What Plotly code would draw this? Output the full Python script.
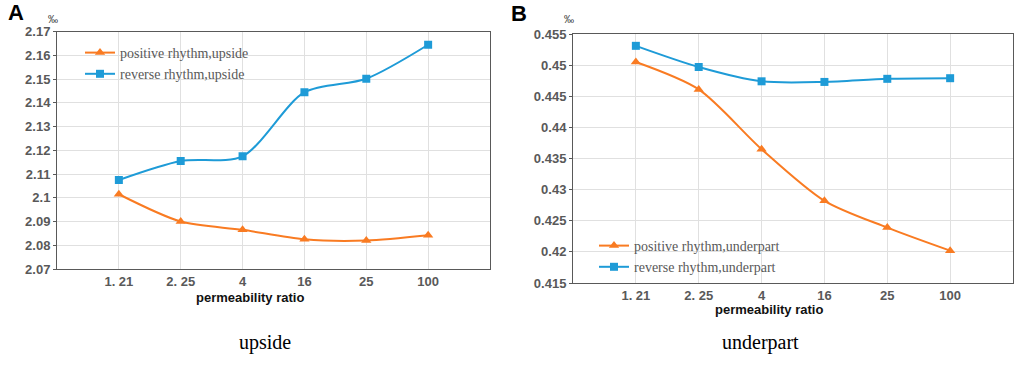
import plotly.graph_objects as go

categories = ["1. 21", "2. 25", "4", "16", "25", "100"]

upside_positive = [2.1015, 2.0900, 2.0865, 2.0825, 2.0820, 2.0842]
upside_reverse = [2.1075, 2.1155, 2.1175, 2.1445, 2.1502, 2.1645]

under_positive = [0.4505, 0.4461, 0.4365, 0.4282, 0.4239, 0.4202]
under_reverse = [0.4531, 0.4497, 0.4474, 0.4473, 0.4478, 0.4479]

upside_yticks = [2.07, 2.08, 2.09, 2.1, 2.11, 2.12, 2.13, 2.14, 2.15, 2.16, 2.17]
upside_yticktext = ["2.07", "2.08", "2.09", "2.1", "2.11", "2.12", "2.13", "2.14", "2.15", "2.16", "2.17"]
under_yticks = [0.415, 0.42, 0.425, 0.43, 0.435, 0.44, 0.445, 0.45, 0.455]
under_yticktext = ["0.415", "0.42", "0.425", "0.43", "0.435", "0.44", "0.445", "0.45", "0.455"]

ORANGE = "#F97B22"
BLUE = "#1E9BD7"
W, H = 1017, 366

def px_x(x):
    return x / W

def px_y(y):
    return 1 - y / H

fig = go.Figure()

def add_pair(pos, rev, names, xa, ya, legend):
    fig.add_trace(go.Scatter(
        x=categories, y=pos, name=names[0], xaxis=xa, yaxis=ya, legend=legend,
        mode="lines+markers", line=dict(color=ORANGE, width=2, shape="spline", smoothing=0.8),
        marker=dict(symbol="triangle-up", size=9, color=ORANGE)))
    fig.add_trace(go.Scatter(
        x=categories, y=rev, name=names[1], xaxis=xa, yaxis=ya, legend=legend,
        mode="lines+markers", line=dict(color=BLUE, width=2, shape="spline", smoothing=0.8),
        marker=dict(symbol="square", size=8, color=BLUE)))

add_pair(upside_positive, upside_reverse,
         ["positive rhythm,upside", "reverse rhythm,upside"], "x", "y", "legend")
add_pair(under_positive, under_reverse,
         ["positive rhythm,underpart", "reverse rhythm,underpart"], "x2", "y2", "legend2")

tickfont = dict(family="Arial, Liberation Sans", size=13, color="#595959", weight="bold")
xcommon = dict(type="category", range=[-1, 6], showgrid=True, gridcolor="#E0E0E0",
               gridwidth=1, showline=True, linecolor="#595959", linewidth=1, mirror=True,
               ticks="", tickfont=tickfont, zeroline=False, fixedrange=True, automargin=False)
ycommon = dict(showgrid=True, gridcolor="#E0E0E0", gridwidth=1, showline=True,
               linecolor="#595959", linewidth=1, mirror=True, ticks="outside",
               ticklen=3, tickcolor="#595959", tickfont=tickfont, zeroline=False, automargin=False)

fig.update_layout(
    width=W, height=H,
    margin=dict(l=0, r=0, t=0, b=0, autoexpand=False),
    paper_bgcolor="white", plot_bgcolor="white",
    xaxis=dict(domain=[px_x(57), px_x(490)], anchor="y", **xcommon),
    yaxis=dict(domain=[px_y(269), px_y(31.7)], anchor="x", range=[2.07, 2.17],
               tickvals=upside_yticks, ticktext=upside_yticktext, **ycommon),
    xaxis2=dict(domain=[px_x(573), px_x(1013)], anchor="y2", **xcommon),
    yaxis2=dict(domain=[px_y(283), px_y(34)], anchor="x2", range=[0.415, 0.455],
                tickvals=under_yticks, ticktext=under_yticktext, **ycommon),
    legend=dict(x=px_x(80), y=px_y(37), xanchor="left", yanchor="top",
                bgcolor="rgba(0,0,0,0)", font=dict(family="Liberation Serif, Times New Roman",
                size=14, color="#595959"), tracegroupgap=0, itemwidth=30),
    legend2=dict(x=px_x(594), y=px_y(230), xanchor="left", yanchor="top",
                 bgcolor="rgba(0,0,0,0)", font=dict(family="Liberation Serif, Times New Roman",
                 size=14, color="#595959"), tracegroupgap=0, itemwidth=30),
    showlegend=True,
)

ann_font_bold = dict(family="Arial, Liberation Sans", size=13, color="#111111", weight="bold")
annotations = [
    dict(text="A", x=px_x(16), y=px_y(12), font=dict(family="Arial, Liberation Sans", size=22, color="black", weight="bold")),
    dict(text="B", x=px_x(519), y=px_y(13), font=dict(family="Arial, Liberation Sans", size=22, color="black", weight="bold")),
    dict(text="‰", x=px_x(53), y=px_y(20), font=dict(family="Arial, Liberation Sans", size=10, color="#333333")),
    dict(text="‰", x=px_x(569), y=px_y(20), font=dict(family="Arial, Liberation Sans", size=10, color="#333333")),
    dict(text="permeability ratio", x=px_x(250), y=px_y(297), font=ann_font_bold),
    dict(text="permeability ratio", x=px_x(769), y=px_y(309), font=ann_font_bold),
    dict(text="upside", x=px_x(265), y=px_y(342), font=dict(family="Liberation Serif, Times New Roman", size=20, color="black")),
    dict(text="underpart", x=px_x(760), y=px_y(342), font=dict(family="Liberation Serif, Times New Roman", size=20, color="black")),
]
for a in annotations:
    a.update(xref="paper", yref="paper", showarrow=False, xanchor="center", yanchor="middle")
fig.update_layout(annotations=annotations)

fig.write_html("out.html", config={"displayModeBar": False},
               post_script="document.body.style.margin='0';document.body.style.padding='0';")
